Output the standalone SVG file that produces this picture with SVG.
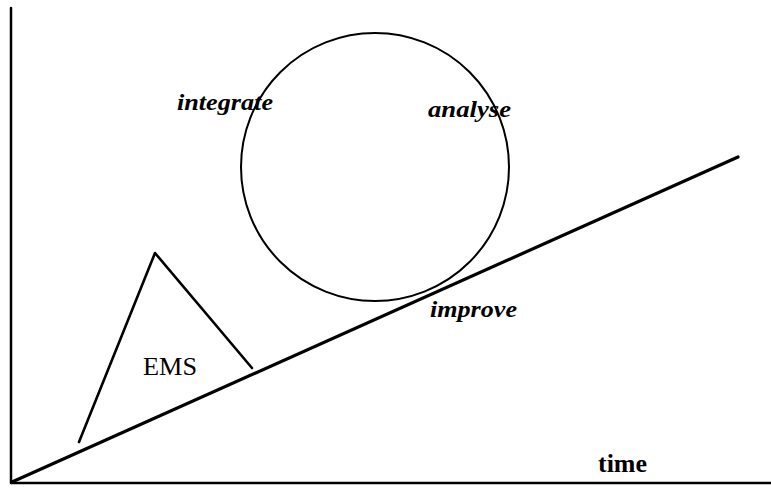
<svg xmlns="http://www.w3.org/2000/svg" width="771" height="488" viewBox="0 0 771 488">
<style>
.ln{stroke:#000;fill:none;stroke-linecap:round;stroke-linejoin:round}
.lbl{font-family:"Liberation Serif","Times New Roman",serif;font-weight:bold;font-style:italic;font-size:24px;fill:#000}
</style>
<rect width="771" height="488" fill="#fff"/>
<g id="axes">
<line class="ln" x1="11" y1="8" x2="11" y2="483" stroke-width="2.5"/>
<line class="ln" x1="11" y1="483" x2="771" y2="483" stroke-width="2.5" style="stroke-linecap:butt"/>
</g>
<g id="connectors">
<line class="ln" x1="12" y1="482" x2="738" y2="157" stroke-width="3.2"/>
</g>
<g id="circle">
<circle class="ln" cx="375" cy="167" r="134" stroke-width="2"/>
</g>
<g id="ems">
<polyline class="ln" points="79,442 155,253 252,368" stroke-width="2.6"/>
<text x="143" y="375" font-family="Liberation Serif, Times New Roman, serif" font-size="26" textLength="54" lengthAdjust="spacingAndGlyphs">EMS</text>
</g>
<g id="labels">
<text class="lbl" x="177" y="110" textLength="96" lengthAdjust="spacingAndGlyphs">integrate</text>
<text class="lbl" x="428" y="117" textLength="83" lengthAdjust="spacingAndGlyphs">analyse</text>
<text class="lbl" x="430" y="317" textLength="87" lengthAdjust="spacingAndGlyphs">improve</text>
<text x="598" y="472" font-family="Liberation Serif, Times New Roman, serif" font-weight="bold" font-size="25" textLength="49" lengthAdjust="spacingAndGlyphs">time</text>
</g>
</svg>
